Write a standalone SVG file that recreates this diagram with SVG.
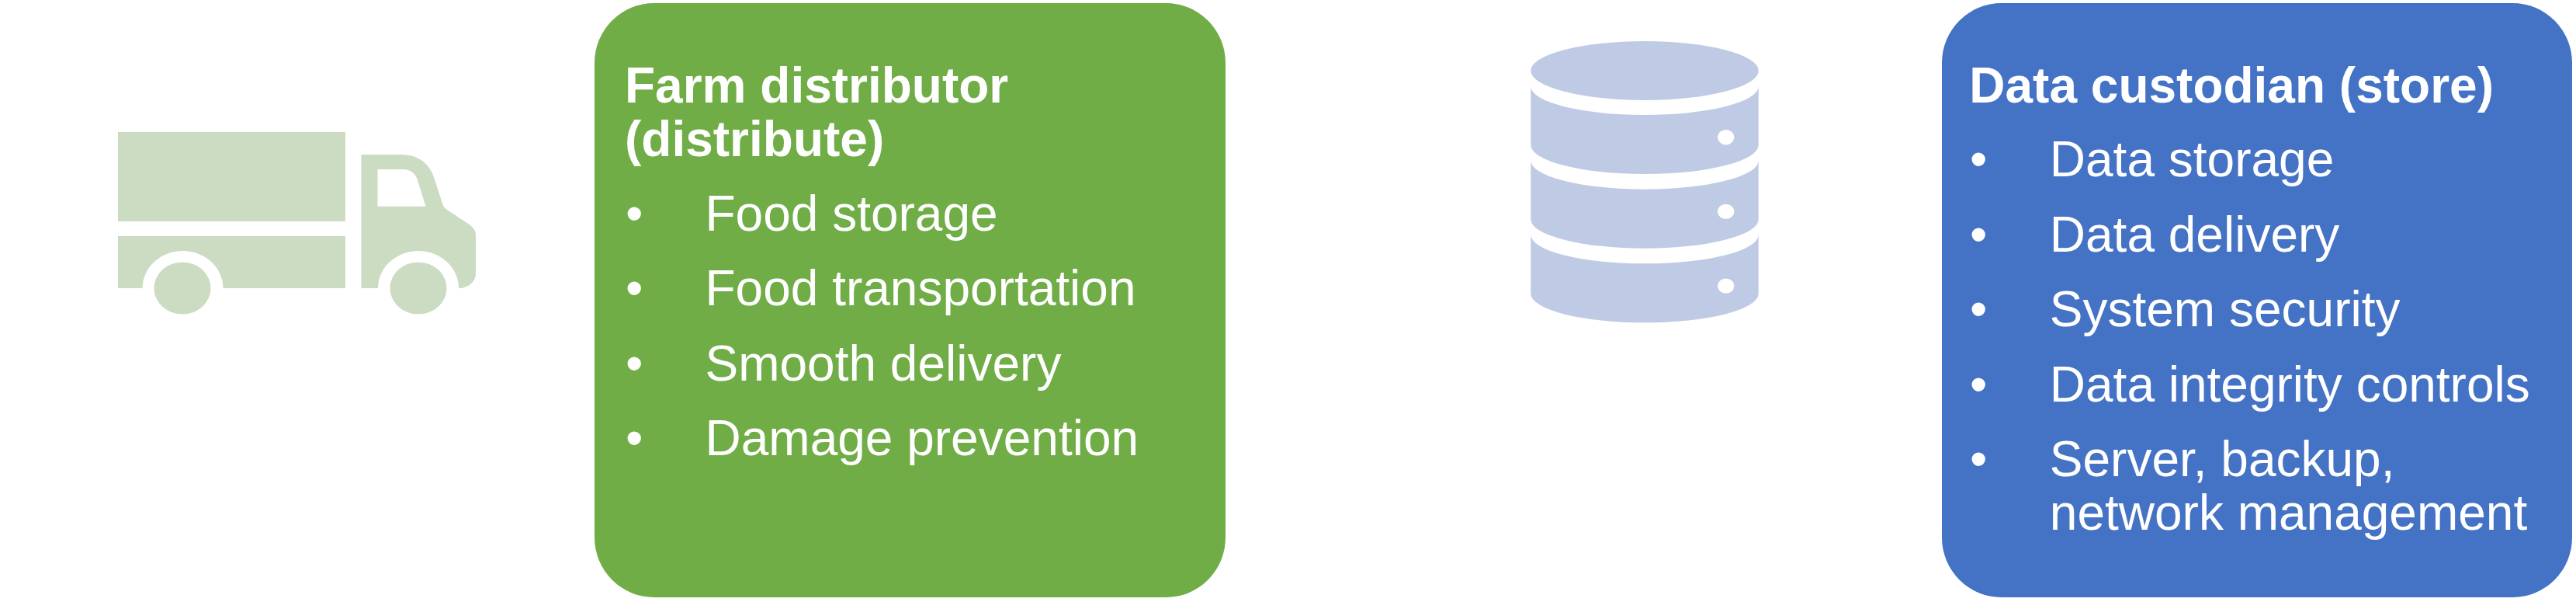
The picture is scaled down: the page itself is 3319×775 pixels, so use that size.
<svg xmlns="http://www.w3.org/2000/svg" width="3319" height="775" viewBox="0 0 3319 775">
<style>
.t{font-family:"Liberation Sans",Arial,sans-serif;font-size:64px;fill:#fff}
.b{font-weight:700}
.truck{fill:#cbdcc2}
.db{fill:#bfcae4}
</style>
<rect width="3319" height="775" fill="#fff"/>
<g id="truck-icon" class="truck">
<rect x="152" y="170" width="293" height="115"/>
<path d="M152 304H445V371H287.5A52 48 0 0 0 183.5 371H152Z"/>
<ellipse cx="235" cy="371" rx="36.5" ry="33.5"/>
<path fill-rule="evenodd" d="M465.5 199H517C538 199 553 210 559 228L570 262C571 265 572 267 574.5 269L603 288C609 292 613 296 613 303V352C613 363 603 371 591 371A52 48 0 0 0 487 371H465.5ZM486.5 218V265.7H548.5L537.4 230C534 222 528 218 519 218Z"/>
<ellipse cx="539" cy="371" rx="36.5" ry="33.5"/>
</g>
<g id="farm-distributor">
<rect x="766" y="4" width="813" height="765" rx="77" ry="77" fill="#70ad47"/>
<text class="t b" x="805" y="131.7">Farm distributor</text>
<text class="t b" x="805" y="201">(distribute)</text>
<text class="t" x="806" y="296.7">•</text><text class="t" x="908.5" y="296.7">Food storage</text>
<text class="t" x="806" y="393.1">•</text><text class="t" x="908.5" y="393.1">Food transportation</text>
<text class="t" x="806" y="489.6">•</text><text class="t" x="908.5" y="489.6">Smooth delivery</text>
<text class="t" x="806" y="586">•</text><text class="t" x="908.5" y="586">Damage prevention</text>
</g>
<g id="database-icon" class="db">
<ellipse cx="2119" cy="91" rx="146.7" ry="38"/>
<path fill-rule="evenodd" d="M1972.3 111A146.7 37 0 0 0 2265.7 111V186.7A146.7 37.3 0 0 1 1972.3 186.7ZM2223.7 167A10.7 9.7 0 1 0 2223.7 186.4A10.7 9.7 0 1 0 2223.7 167Z"/>
<path fill-rule="evenodd" d="M1972.3 206.7A146.7 37 0 0 0 2265.7 206.7V282.4A146.7 37.3 0 0 1 1972.3 282.4ZM2223.7 262.7A10.7 9.7 0 1 0 2223.7 282.1A10.7 9.7 0 1 0 2223.7 262.7Z"/>
<path fill-rule="evenodd" d="M1972.3 302.4A146.7 37 0 0 0 2265.7 302.4V378.1A146.7 37.3 0 0 1 1972.3 378.1ZM2223.7 358.4A10.7 9.7 0 1 0 2223.7 377.8A10.7 9.7 0 1 0 2223.7 358.4Z"/>
</g>
<g id="data-custodian">
<rect x="2502" y="4" width="812" height="765" rx="77" ry="77" fill="#4472c4"/>
<text class="t b" x="2537.3" y="131.7">Data custodian (store)</text>
<text class="t" x="2538" y="227.3">•</text><text class="t" x="2640.8" y="227.3">Data storage</text>
<text class="t" x="2538" y="323.7">•</text><text class="t" x="2640.8" y="323.7">Data delivery</text>
<text class="t" x="2538" y="420.1">•</text><text class="t" x="2640.8" y="420.1">System security</text>
<text class="t" x="2538" y="516.5">•</text><text class="t" x="2640.8" y="516.5">Data integrity controls</text>
<text class="t" x="2538" y="612.9">•</text><text class="t" x="2640.8" y="612.9">Server, backup,</text>
<text class="t" x="2640.8" y="681.7">network management</text>
</g>
<g id="connectors"/>
</svg>
